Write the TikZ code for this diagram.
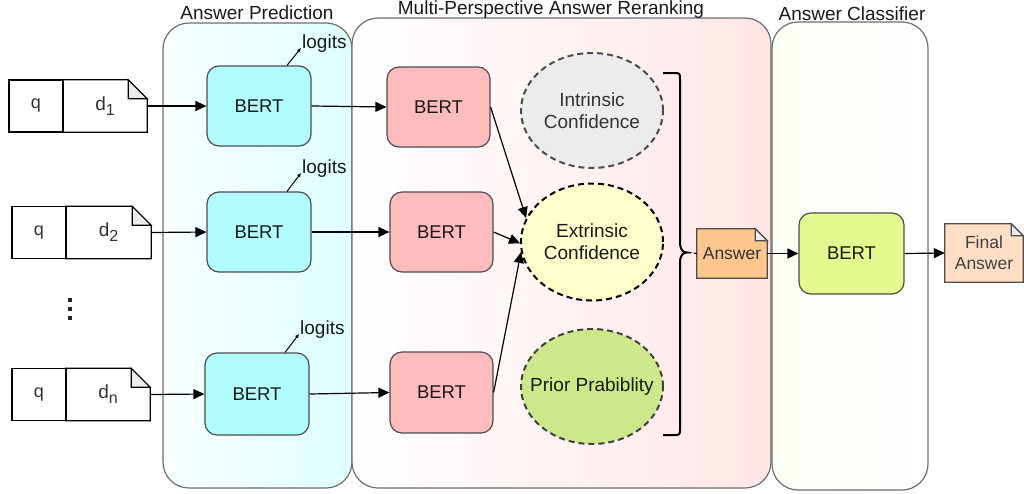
\documentclass[tikz,border=0pt]{standalone}
\usepackage{fontspec}
\setmainfont{Liberation Sans}
\usetikzlibrary{arrows.meta,shapes.geometric,calc}
\pgfdeclarelayer{back}
\pgfdeclarelayer{mid}
\pgfsetlayers{back,mid,main}
\definecolor{txt}{RGB}{30,30,30}
\definecolor{bordergray}{RGB}{110,110,110}
\definecolor{cyanfill}{RGB}{176,252,255}
\definecolor{pinkfill}{RGB}{255,188,188}
\definecolor{greyfill}{RGB}{236,236,236}
\definecolor{yellowfill}{RGB}{255,255,204}
\definecolor{greenfill}{RGB}{205,232,138}
\definecolor{limefill}{RGB}{228,250,142}
\definecolor{orangefill}{RGB}{252,198,142}
\definecolor{peachfill}{RGB}{255,222,198}
\definecolor{foldfill}{RGB}{236,236,236}
\newcommand\foldnote[3]{%
  \begin{pgfonlayer}{mid}
  \draw[docline,fill=#3] (#1.north west) -- ($(#1.north east)+(-#2,0)$) -- ($(#1.north east)+(0,#2)$) -- (#1.south east) -- (#1.south west) -- cycle;
  \draw[docline,fill=foldfill] ($(#1.north east)+(-#2,0)$) -- ($(#1.north east)+(-#2,#2)$) -- ($(#1.north east)+(0,#2)$) -- cycle;
  \end{pgfonlayer}}
\begin{document}
\begin{tikzpicture}[x=1pt,y=-1pt,
  font=\fontsize{19}{22}\selectfont, text=txt,
  cont/.style={draw=bordergray, line width=1.2pt, rounded corners=26pt, inner sep=0pt},
  title/.style={font=\fontsize{19}{22}\selectfont, text=black!90},
  bertbox/.style={draw=black!70, line width=1.2pt, rounded corners=12pt, minimum width=104pt, minimum height=80pt, inner sep=0pt, font=\fontsize{18.5}{20}\selectfont, text=black!90},
  qbox/.style={draw=black, line width=1.2pt, minimum height=52pt, inner sep=0pt, font=\fontsize{18}{20}\selectfont, text=black!80},
  dbox/.style={minimum height=52pt, inner sep=0pt, text=black!80},
  docline/.style={draw=black, line width=1.2pt},
  noteline/.style={draw=black!70, line width=1.2pt},
  ell/.style={ellipse, minimum width=142pt, minimum height=115pt, inner sep=0pt, dash pattern=on 6pt off 4pt, line width=2pt},
  arr/.style={draw=black, line width=1.2pt, -{Triangle[length=11pt,width=10pt]}},
  lgarr/.style={draw=black, line width=1pt, -{Latex[length=4pt,width=4pt]}},
  lg/.style={inner sep=0pt, anchor=base west, text=black!90},
]
\useasboundingbox (0,0) rectangle (1024,493);

% containers
\begin{pgfonlayer}{back}
\node[cont, minimum width=189pt, minimum height=465pt, left color={rgb,255:red,248;green,255;blue,255}, right color={rgb,255:red,222;green,255;blue,255}] (ap) at (257.5,255.5) {};
\node[cont, minimum width=419pt, minimum height=470pt, left color=white, right color={rgb,255:red,255;green,230;blue,230}] (mp) at (561.5,253) {};
\node[cont, minimum width=156pt, minimum height=468pt, left color={rgb,255:red,251;green,255;blue,244}, right color=white] (ac) at (850,256) {};
\end{pgfonlayer}
\node[title] (tap) at (257,13) {Answer Prediction};
\node[title] (tmp) at (551,10) {Multi-Perspective Answer Reranking};
\node[title] (tac) at (852,14) {Answer Classifier};

% inputs
\node[qbox, minimum width=54pt] (q1) at (36,106) {q};
\node[dbox, minimum width=84pt] (d1) at (105,106) {d\raisebox{-5pt}{\fontsize{16}{16}\selectfont 1}};
\foldnote{d1}{19}{white}
\node[qbox, minimum width=54pt] (q2) at (39,232.5) {q};
\node[dbox, minimum width=85pt] (d2) at (108.5,232.5) {d\raisebox{-5pt}{\fontsize{16}{16}\selectfont 2}};
\foldnote{d2}{19}{white}
\node[qbox, minimum width=54pt] (q3) at (39,394.5) {q};
\node[dbox, minimum width=84pt] (d3) at (108,394.5) {d\raisebox{-5pt}{\fontsize{16}{16}\selectfont n}};
\foldnote{d3}{19}{white}

\node[inner sep=0pt, minimum size=24pt] (dots) at (70,309) {};
\foreach \yy in {-9,0,9} \fill[black!85] ($(dots)+(-2,\yy-2)$) rectangle ++(4,4);

% answer prediction BERTs
\node[bertbox, fill=cyanfill] (b1) at (259,106) {BERT};
\node[bertbox, fill=cyanfill] (b2) at (259,232) {BERT};
\node[bertbox, fill=cyanfill, minimum height=82pt] (b3) at (257,394) {BERT};

\node[lg] (lg1) at (302,48) {logits};
\node[lg] (lg2) at (302,173) {logits};
\node[lg] (lg3) at (300,334) {logits};
\draw[lgarr] ($(b1.north)+(28,0)$) -- ($(lg1.base west)+(-1,0)$);
\draw[lgarr] ($(b2.north)+(28,0)$) -- ($(lg2.base west)+(-1,0)$);
\draw[lgarr] ($(b3.north)+(28,0)$) -- ($(lg3.base west)+(-1,0)$);

% reranking BERTs
\node[bertbox, fill=pinkfill, minimum width=103pt] (p1) at (438.5,107) {BERT};
\node[bertbox, fill=pinkfill, minimum width=103pt] (p2) at (441.5,232) {BERT};
\node[bertbox, fill=pinkfill, minimum width=103pt, minimum height=81pt] (p3) at (441.5,392.5) {BERT};

% ellipses
\node[ell, draw=black!70, fill=greyfill, label={[align=center, text=black!80]center:Intrinsic\\Confidence}] (ic) at (592,110.5) {};
\node[ell, draw=black, fill=yellowfill, minimum height=117pt, label={[align=center, text=black!90]center:Extrinsic\\Confidence}] (ex) at (592,242) {};
\node[ell, draw=black!75, fill=greenfill, label={[text=black!90]center:Prior Prabiblity}] (pr) at (592,386.5) {};

% brace
\coordinate (bt) at (687,252.5);
\draw[line width=2pt, black] (663,73) -- (676,73) .. controls (680,73) and (680,75) .. (680,79)
  -- (680,242) .. controls (680,250) and (683,252.5) .. (bt)
  .. controls (683,252.5) and (680,255) .. (680,263)
  -- (680,429) .. controls (680,433) and (680,435) .. (676,435) -- (663,435);

% answer
\node[inner sep=0pt, minimum width=70pt, minimum height=49pt, font=\fontsize{17.5}{20}\selectfont, text=black!80] (an) at (732,253.5) {Answer};
\begin{pgfonlayer}{mid}
\draw[noteline,fill=orangefill] (an.north west) -- ($(an.north east)+(-12,0)$) -- ($(an.north east)+(0,12)$) -- (an.south east) -- (an.south west) -- cycle;
\draw[noteline,fill=foldfill] ($(an.north east)+(-12,0)$) -- ($(an.north east)+(-12,12)$) -- ($(an.north east)+(0,12)$) -- cycle;
\end{pgfonlayer}
\draw[black, line width=1.2pt, dash pattern=on 4pt off 3pt] (bt) -- (an.west);

\node[bertbox, fill=limefill, minimum width=105pt, minimum height=81pt] (cl) at (851.5,253.5) {BERT};

\node[inner sep=0pt, minimum width=78pt, minimum height=58pt, align=center, font=\fontsize{17.5}{21}\selectfont, text=black!75] (fa) at (984,253) {Final\\Answer};
\begin{pgfonlayer}{mid}
\draw[noteline,fill=peachfill] (fa.north west) -- ($(fa.north east)+(-12,0)$) -- ($(fa.north east)+(0,12)$) -- (fa.south east) -- (fa.south west) -- cycle;
\draw[noteline,fill=foldfill] ($(fa.north east)+(-12,0)$) -- ($(fa.north east)+(-12,12)$) -- ($(fa.north east)+(0,12)$) -- cycle;
\end{pgfonlayer}

% arrows
\draw[arr] (d1.east) -- (b1.west);
\draw[arr] (d2.east) -- (b2.west);
\draw[arr] (d3.east) -- (b3.west);
\draw[arr] (b1.east) -- (p1.west);
\draw[arr] (b2.east) -- (p2.west);
\draw[arr] (b3.east) -- (p3.west);
\draw[arr] (p1.east) -- (ex.160);
\draw[arr] (p2.east) -- (ex.181);
\draw[arr] (p3.east) -- (ex.188);
\draw[arr] (an.east) -- (cl.west);
\draw[arr] (cl.east) -- (fa.west);
\end{tikzpicture}
\end{document}
